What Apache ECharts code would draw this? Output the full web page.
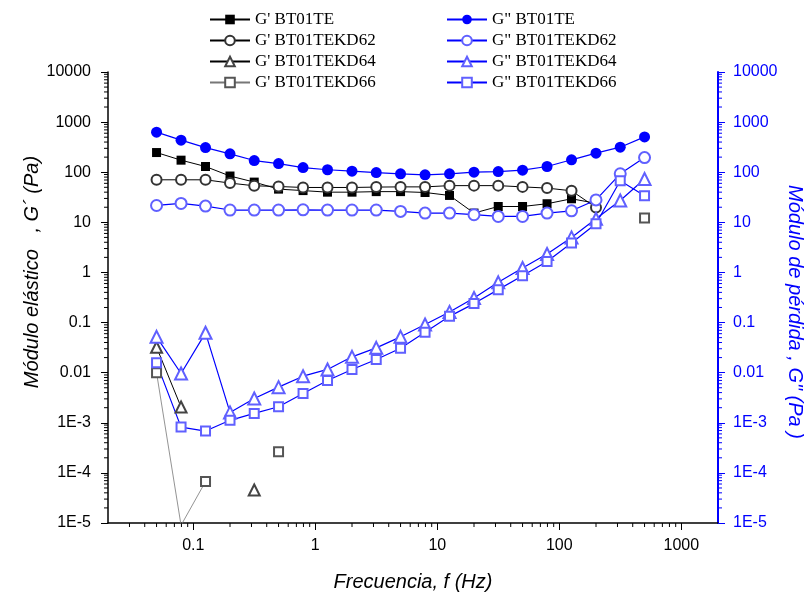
<!DOCTYPE html>
<html>
<head>
<meta charset="utf-8">
<script src="https://cdn.jsdelivr.net/npm/echarts@6/dist/echarts.min.js"></script>
<style>html,body{margin:0;padding:0;background:#fff;}#chart{width:809px;height:599px;}</style>
</head>
<body>
<div id="chart"></div>
<script>
// Frequencies (Hz)
const freq = [0.05, 0.0794, 0.126, 0.2, 0.316, 0.5, 0.794, 1.26, 2, 3.16, 5, 7.94, 12.6, 20, 31.6, 50, 79.4, 126, 200, 316, 500];
// G' (elastic modulus, Pa)
const gpTE   = [247, 174, 130, 84, 63.5, 46, 43, 40, 40, 41, 41, 39.4, 34.4, 15.3, 20.7, 20.7, 23.5, 29.5, 24, null, null];
const gpKD62 = [70.6, 70.6, 70.6, 60.7, 53.6, 51.9, 49.6, 49.6, 49.6, 50.5, 51, 51, 54, 54, 54, 51, 48.2, 42.6, 19.8, null, null];
const gpKD64 = [0.0322, 0.00206, null, null, 4.56e-5, null, null, null, null, null, null, null, null, null, null, null, null, null, null, null, null];
const gpKD66 = [0.00995, 9e-6, 6.7e-5, null, null, 2.65e-4, null, null, null, null, null, null, null, null, null, null, null, null, null, null, 12.2];
// G'' (loss modulus, Pa)
const gppTE   = [630, 436, 310, 233, 171, 149, 124, 112, 105, 98.6, 93, 88.7, 93, 100, 103, 110, 130, 177, 240, 316, 507];
const gppKD62 = [21.7, 23.8, 21.1, 17.6, 17.6, 17.6, 17.8, 17.6, 17.6, 17.6, 16.5, 15.3, 15.3, 14.2, 13.1, 13.1, 15.3, 17, 28, 93, 196];
const gppKD64 = [0.0519, 0.00964, 0.0624, 0.00161, 0.00306, 0.00514, 0.00851, 0.0116, 0.0207, 0.0313, 0.0519, 0.0912, 0.163, 0.310, 0.635, 1.23, 2.34, 5.0, 11.8, 27.3, 73];
const gppKD66 = [0.0157, 8.2e-4, 6.84e-4, 1.12e-3, 1.54e-3, 2.09e-3, 3.85e-3, 7.0e-3, 0.0116, 0.0183, 0.0308, 0.0641, 0.133, 0.239, 0.454, 0.863, 1.66, 3.87, 9.4, 67.4, 33.9];

const names = ["G' BT01TE", "G' BT01TEKD62", "G' BT01TEKD64", "G' BT01TEKD66",
               'G" BT01TE', 'G" BT01TEKD62', 'G" BT01TEKD64', 'G" BT01TEKD66'];

const X_MIN = 0.02, X_MAX = 2000, Y_MIN = 1e-5, Y_MAX = 1e4;

function pairs(arr) { return freq.map((f, i) => [f, arr[i] == null ? '-' : arr[i]]); }

function decadeLabel(v) {
  const l = Math.log10(v);
  const e = Math.round(l);
  if (Math.abs(l - e) > 0.01) return '';
  if (e >= 0) return String(Math.pow(10, e));
  if (e === -1) return '0.1';
  if (e === -2) return '0.01';
  return '1E' + e;
}

// minor tick positions (2..9 x 10^n)
function minorVals(lo, hi) {
  const out = [];
  for (let e = Math.floor(Math.log10(lo)); e <= Math.ceil(Math.log10(hi)); e++) {
    for (let k = 2; k <= 9; k++) {
      const v = k * Math.pow(10, e);
      if (v > lo * 1.0001 && v < hi * 0.9999) out.push(v);
    }
  }
  return out;
}

const blue = '#0000ff';
const lightBlue = '#6060ff';
const labelFont = 'Liberation Sans';

function mk(name, arr, opts) {
  return Object.assign({
    name: name, type: 'line', data: pairs(arr), connectNulls: false,
    xAxisIndex: 0, yAxisIndex: 0, z: 3,
    lineStyle: { width: 1 }, emphasis: { disabled: true }
  }, opts);
}

const series = [
  mk(names[0], gpTE, { symbol: 'rect', symbolSize: 9, itemStyle: { color: '#000' }, lineStyle: { color: '#000', width: 1 } }),
  mk(names[1], gpKD62, { symbol: 'emptyCircle', symbolSize: 10, itemStyle: { color: '#333', borderWidth: 1 }, lineStyle: { color: '#000', width: 1 } }),
  mk(names[2], gpKD64, { symbol: 'emptyTriangle', symbolSize: 11, itemStyle: { color: '#444', borderWidth: 1 }, lineStyle: { color: '#000', width: 1 } }),
  mk(names[3], gpKD66, { symbol: 'emptyRect', symbolSize: 9, itemStyle: { color: '#555', borderWidth: 1 }, lineStyle: { color: '#777', width: 0.8 } }),
  mk(names[4], gppTE, { yAxisIndex: 1, symbol: 'circle', symbolSize: 11, itemStyle: { color: blue }, lineStyle: { color: blue, width: 1.2 } }),
  mk(names[5], gppKD62, { yAxisIndex: 1, symbol: 'emptyCircle', symbolSize: 11, itemStyle: { color: lightBlue, borderWidth: 1 }, lineStyle: { color: blue, width: 1.2 } }),
  mk(names[6], gppKD64, { yAxisIndex: 1, symbol: 'emptyTriangle', symbolSize: 12, itemStyle: { color: lightBlue, borderWidth: 1 }, lineStyle: { color: blue, width: 1.2 } }),
  mk(names[7], gppKD66, { yAxisIndex: 1, symbol: 'emptyRect', symbolSize: 9, itemStyle: { color: lightBlue, borderWidth: 1 }, lineStyle: { color: blue, width: 1.2 } })
];

// minor ticks drawn through the axes' own scales
function tickSeries(kind) {
  let data, yIdx = 0;
  if (kind === 'x') data = minorVals(X_MIN, X_MAX).map(v => [v, Y_MIN]);
  else if (kind === 'yl') data = minorVals(Y_MIN, Y_MAX).map(v => [X_MIN, v]);
  else { data = minorVals(Y_MIN, Y_MAX).map(v => [X_MAX, v]); yIdx = 1; }
  const color = kind === 'yr' ? blue : '#000';
  return {
    type: 'custom', xAxisIndex: 0, yAxisIndex: yIdx, silent: true, clip: false, z: 1,
    data: data,
    renderItem: function (params, api) {
      const p = api.coord([api.value(0), api.value(1)]);
      let s;
      if (kind === 'x') s = { x1: p[0], y1: p[1], x2: p[0], y2: p[1] + 4 };
      else if (kind === 'yl') s = { x1: p[0] - 4, y1: p[1], x2: p[0], y2: p[1] };
      else s = { x1: p[0], y1: p[1], x2: p[0] + 4, y2: p[1] };
      return { type: 'line', shape: s, style: { stroke: color, lineWidth: 1 } };
    }
  };
}
series.push(tickSeries('x'), tickSeries('yl'), tickSeries('yr'));

const chart = echarts.init(document.getElementById('chart'), null, { renderer: 'canvas' });
chart.setOption({
  animation: false,
  backgroundColor: '#fff',
  grid: { left: 108, right: 91, top: 72, bottom: 76, containLabel: false },
  legend: [
    { data: names.slice(0, 4), orient: 'vertical', left: 204, top: 6, itemWidth: 40, itemHeight: 12, itemGap: 4,
      textStyle: { fontFamily: 'Liberation Serif', fontSize: 17, color: '#000' }, selectedMode: false },
    { data: names.slice(4), orient: 'vertical', left: 441, top: 6, itemWidth: 40, itemHeight: 12, itemGap: 4,
      textStyle: { fontFamily: 'Liberation Serif', fontSize: 17, color: '#000' }, selectedMode: false }
  ],
  xAxis: {
    type: 'log', logBase: 10, min: X_MIN, max: X_MAX,
    axisLine: { show: true, lineStyle: { color: '#000', width: 1.5 } },
    axisTick: { show: true, length: 7, lineStyle: { color: '#000', width: 1 } },
    axisLabel: { formatter: decadeLabel, fontFamily: labelFont, fontSize: 16, color: '#000', margin: 15, showMinLabel: false, showMaxLabel: false },
    splitLine: { show: false }
  },
  yAxis: [
    { type: 'log', logBase: 10, min: Y_MIN, max: Y_MAX, interval: 1, position: 'left',
      axisLine: { show: true, lineStyle: { color: '#000', width: 1.5 } },
      axisTick: { show: true, length: 7, lineStyle: { color: '#000', width: 1 } },
      axisLabel: { formatter: decadeLabel, fontFamily: labelFont, fontSize: 16, color: '#000', margin: 17 },
      splitLine: { show: false } },
    { type: 'log', logBase: 10, min: Y_MIN, max: Y_MAX, interval: 1, position: 'right',
      axisLine: { show: true, lineStyle: { color: blue, width: 2 } },
      axisTick: { show: true, length: 7, lineStyle: { color: blue, width: 1 } },
      axisLabel: { formatter: decadeLabel, fontFamily: labelFont, fontSize: 16, color: blue, margin: 15 },
      splitLine: { show: false } }
  ],
  graphic: [
    { type: 'text', x: 32, y: 272, rotation: Math.PI / 2,
      style: { text: 'Módulo elástico   , G´ (Pa)', fontFamily: labelFont, fontStyle: 'italic', fontSize: 20, fill: '#000', align: 'center', verticalAlign: 'middle' } },
    { type: 'text', x: 795, y: 312, rotation: -Math.PI / 2,
      style: { text: 'Módulo de pérdida , G" (Pa )', fontFamily: labelFont, fontStyle: 'italic', fontSize: 20, fill: blue, align: 'center', verticalAlign: 'middle' } },
    { type: 'text', x: 413, y: 582,
      style: { text: 'Frecuencia, f (Hz)', fontFamily: labelFont, fontStyle: 'italic', fontSize: 20, fill: '#000', align: 'center', verticalAlign: 'middle' } }
  ],
  series: series
});
</script>
</body>
</html>
